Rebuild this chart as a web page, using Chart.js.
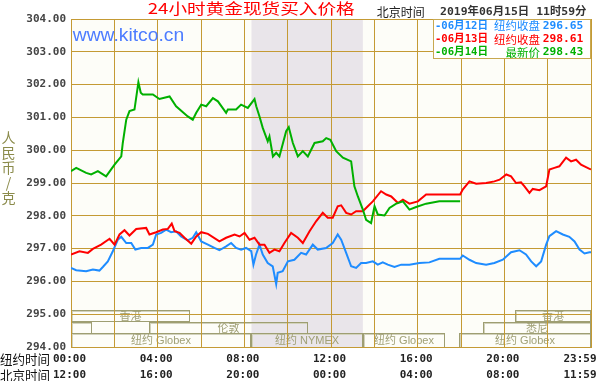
<!DOCTYPE html>
<html><head><meta charset="utf-8">
<script src="https://cdn.jsdelivr.net/npm/chart.js@4.4.1/dist/chart.umd.min.js"></script>
<style>html,body{margin:0;padding:0;background:#fff;}canvas{display:block;}</style>
</head><body>
<canvas id="c" width="600" height="381"></canvas>
<script>
// ---------- data ----------
const chartTitle = '24小时黄金现货买入价格';
const headerLabel = '北京时间';
const headerDate = '2019年06月15日 11时59分';
const watermark = 'www.kitco.cn';
const yAxisTitle = ['人','民','币','/','克'];
const yMin = 294, yMax = 304;

const legendDates  = ['-06月12日', '-06月13日', '-06月14日'];
const legendLabels = ['纽约收盘', '纽约收盘', '最新价'];
const legendValues = ['296.65', '298.61', '298.43'];

const xLabelHours = [0, 4, 8, 12, 16, 20, 24];
const nyTimeLabels = ['00:00','04:00','08:00','12:00','16:00','20:00','23:59'];
const bjTimeLabels = ['12:00','16:00','20:00','00:00','04:00','08:00','11:59'];
const rowTitles = ['纽约时间', '北京时间'];

const nymexWindow = [8.33, 13.47];

const marketLabels = ['香港','香港','','伦敦','悉尼','纽约 Globex','纽约 NYMEX','纽约 Globex','纽约 Globex'];
const marketStart  = [0, 20.47, 0, 3.62, 19.0, 0, 8.33, 13.47, 17.93];
const marketEnd    = [5.47, 24, 0.95, 10.93, 24, 8.33, 13.47, 17.25, 24];
const marketRow    = [0, 0, 1, 1, 1, 2, 2, 2, 2];

// 06月12日 (blue)
const blueHours = [0.00,0.24,0.70,1.01,1.31,1.47,1.70,1.93,2.16,2.32,2.55,2.78,2.97,3.24,3.55,3.78,3.93,4.16,4.39,4.62,4.85,5.08,5.39,5.62,5.78,6.01,6.32,6.62,6.85,7.16,7.39,7.62,7.85,8.08,8.32,8.42,8.54,8.70,8.85,9.08,9.31,9.47,9.54,9.77,10.01,10.31,10.62,10.85,11.16,11.39,11.77,12.08,12.31,12.47,12.70,12.93,13.16,13.39,13.62,13.93,14.16,14.39,14.62,14.93,15.24,15.62,16.08,16.54,17.00,17.96,18.08,18.39,18.70,19.16,19.54,19.93,20.31,20.70,21.00,21.24,21.47,21.70,21.93,22.08,22.39,22.70,23.00,23.24,23.47,23.70,23.93,24.00];
const blueValues = [296.41,296.34,296.31,296.36,296.33,296.44,296.61,296.92,297.27,297.36,297.17,297.17,296.97,297.02,297.02,297.12,297.43,297.48,297.58,297.50,297.53,297.37,297.25,297.33,297.50,297.22,297.12,297.02,296.95,297.07,297.17,297.02,296.97,297.02,296.92,296.51,296.82,297.12,296.82,296.56,296.46,295.92,296.26,296.31,296.61,296.66,296.87,296.82,297.12,296.97,297.02,297.17,297.43,297.27,296.87,296.46,296.41,296.56,296.56,296.61,296.51,296.58,296.51,296.44,296.51,296.51,296.56,296.58,296.69,296.69,296.79,296.66,296.56,296.51,296.56,296.66,296.89,296.95,296.82,296.61,296.46,296.61,297.12,297.38,297.53,297.43,297.36,297.22,296.97,296.85,296.89,296.89];

// 06月13日 (red)
const redHours = [0.00,0.39,0.78,1.01,1.39,1.78,2.01,2.24,2.47,2.70,3.01,3.47,3.62,3.93,4.24,4.47,4.65,4.78,5.01,5.24,5.55,5.78,6.01,6.32,6.85,7.16,7.55,7.78,8.01,8.24,8.47,8.70,8.93,9.16,9.39,9.62,9.85,10.16,10.47,10.70,11.01,11.32,11.62,11.85,12.08,12.31,12.47,12.70,12.93,13.16,13.47,13.70,13.93,14.31,14.55,14.78,15.09,15.32,15.62,16.01,16.39,17.96,18.08,18.39,18.70,19.16,19.54,19.78,20.09,20.31,20.54,20.77,20.93,21.16,21.31,21.62,21.93,22.08,22.31,22.54,22.85,23.08,23.31,23.54,23.93,24.00];
const redValues = [296.82,296.92,296.87,296.99,297.12,297.30,297.12,297.43,297.56,297.40,297.60,297.63,297.43,297.50,297.58,297.60,297.76,297.53,297.48,297.33,297.15,297.37,297.50,297.45,297.22,297.33,297.43,297.37,297.48,297.27,297.33,297.12,297.12,296.87,296.97,296.92,297.17,297.48,297.33,297.17,297.53,297.84,298.09,297.94,297.94,298.29,298.32,298.09,298.04,298.14,298.14,298.29,298.44,298.75,298.65,298.59,298.39,298.49,298.37,298.44,298.65,298.65,298.80,299.05,298.98,299.00,299.05,299.10,299.26,299.20,299.00,299.02,298.90,298.70,298.82,298.78,298.90,299.41,299.46,299.51,299.77,299.66,299.71,299.56,299.43,299.42];

// 06月14日 (green)
const greenHours = [0.00,0.24,0.70,0.93,1.24,1.62,2.01,2.32,2.39,2.55,2.70,2.93,3.11,3.22,3.31,3.78,4.08,4.55,4.85,5.39,5.62,5.78,6.01,6.24,6.55,6.78,7.16,7.24,7.62,7.85,8.16,8.47,8.55,8.70,8.85,9.08,9.16,9.32,9.47,9.62,9.93,10.05,10.24,10.47,10.70,10.93,11.24,11.62,11.78,11.97,12.24,12.55,12.93,13.08,13.24,13.47,13.62,13.85,13.93,14.01,14.16,14.47,14.70,15.01,15.32,15.62,15.93,16.39,17.00,17.96];
const greenValues = [299.36,299.46,299.31,299.26,299.36,299.20,299.56,299.81,300.22,300.93,301.19,301.24,302.07,301.75,301.70,301.70,301.56,301.64,301.34,301.03,300.93,301.14,301.39,301.34,301.59,301.49,301.14,301.24,301.24,301.39,301.29,301.56,301.34,301.03,300.68,300.27,300.42,299.81,299.92,299.81,300.58,300.70,300.22,299.81,299.97,299.81,300.22,300.27,300.37,300.32,299.97,299.77,299.66,298.90,298.59,298.19,297.88,297.78,298.04,298.29,298.04,298.01,298.24,298.37,298.44,298.19,298.27,298.37,298.44,298.44];

// ---------- styles ----------
const GRID = '#c49a34';
const BLUE = '#1e8cff', RED = '#ff0000', GREEN = '#00b000';
const legendColors = [BLUE, RED, GREEN];
const MONO = "'DejaVu Sans Mono','Noto Sans CJK SC'";
const CJK = "'Noto Sans CJK SC'";

function pts(h, v) { return h.map((x, i) => ({x: x, y: v[i]})); }

function fitText(ctx, text, x, y, font, color, align, width) {
  ctx.save();
  ctx.font = font; ctx.fillStyle = color; ctx.textBaseline = 'middle';
  const w = ctx.measureText(text).width;
  const s = width ? width / w : 1;
  ctx.translate(x, y); ctx.scale(s, 1);
  ctx.textAlign = align;
  ctx.fillText(text, 0, 0);
  ctx.restore();
}

const backgroundPlugin = {
  id: 'bg',
  beforeDraw(chart) {
    const {ctx, chartArea: a, scales: {x}} = chart;
    ctx.save();
    ctx.fillStyle = '#ffffff';
    ctx.fillRect(0, 0, chart.width, chart.height);
    ctx.fillStyle = '#fdfdf8';
    ctx.fillRect(a.left, a.top, a.right - a.left, a.bottom - a.top);
    const x0 = x.getPixelForValue(nymexWindow[0]);
    const x1 = x.getPixelForValue(nymexWindow[1]);
    ctx.fillStyle = '#e9e5ea';
    ctx.fillRect(x0, a.top, x1 - x0, a.bottom - a.top);
    // market session boxes
    const rowTop = [a.bottom - 37, a.bottom - 25, a.bottom - 14];
    const rowH = [11, 11, 14];
    for (let i = 0; i < marketLabels.length; i++) {
      const r = marketRow[i];
      const l = Math.round(x.getPixelForValue(marketStart[i])) + 0.5;
      const rr = Math.round(x.getPixelForValue(marketEnd[i])) - 0.5;
      const t = rowTop[r] + 0.5, h = rowH[r];
      ctx.lineWidth = 1;
      ctx.strokeStyle = '#d2d2bc';
      ctx.strokeRect(l + 1, t + 1, rr - l - 1, h - 1);
      ctx.strokeStyle = '#9e9e72';
      ctx.strokeRect(l, t, rr - l, h);
      if (marketLabels[i]) {
        ctx.font = "11px 'Liberation Sans'," + CJK;
        ctx.fillStyle = '#a0a076';
        ctx.textAlign = 'center'; ctx.textBaseline = 'middle';
        ctx.fillText(marketLabels[i], (l + rr) / 2, t + h / 2 + 0.5);
      }
    }
    ctx.restore();
  },
  afterDraw(chart) {
    const {ctx, chartArea: a, scales: {x}} = chart;
    // title and header
    fitText(ctx, chartTitle, 147.7, 8.5, "15px " + CJK, '#ff0000', 'left', 207);
    fitText(ctx, headerLabel, 376.7, 12, "12px " + CJK, '#222', 'left', 48);
    fitText(ctx, headerDate, 440, 12.5, "bold 11px " + MONO, '#333', 'left', 146.5);
    fitText(ctx, watermark, 72.7, 35.7, "18px 'Liberation Sans'", '#4d7cff', 'left', 111.5);
    // legend box
    ctx.save();
    ctx.fillStyle = '#ffffff';
    ctx.fillRect(433.5, 19.5, 157, 39);
    ctx.strokeStyle = '#c8a850'; ctx.lineWidth = 1;
    ctx.strokeRect(433.5, 19.5, 157, 39);
    ctx.restore();
    const rowsY = [25.8, 39.2, 52.5];
    for (let i = 0; i < legendDates.length; i++) {
      fitText(ctx, legendDates[i], 435, rowsY[i], "bold 11px " + MONO, legendColors[i], 'left', 53);
      fitText(ctx, legendLabels[i], 540, rowsY[i], "11.5px " + CJK, legendColors[i], 'right', null);
      fitText(ctx, legendValues[i], 542.7, rowsY[i], "bold 11px " + MONO, legendColors[i], 'left', 40.6);
    }
    // y-axis title
    ctx.save();
    ctx.font = "14px " + CJK; ctx.fillStyle = '#8b8b4b';
    ctx.textAlign = 'center'; ctx.textBaseline = 'middle';
    yAxisTitle.forEach((ch, i) => ctx.fillText(ch, 8.5, 137.5 + i * 15.1));
    ctx.restore();
    // bottom time labels
    fitText(ctx, rowTitles[0], 0, 359.3, "13px " + CJK, '#111', 'left', 50);
    fitText(ctx, rowTitles[1], 0, 375, "13px " + CJK, '#111', 'left', 50);
    for (let i = 0; i < xLabelHours.length; i++) {
      let cx = x.getPixelForValue(xLabelHours[i]) - 1.5;
      const half = 16.5;
      if (cx + half > 596.5) cx = 596.5 - half;
      fitText(ctx, nyTimeLabels[i], cx, 359.3, "bold 11px " + MONO, '#222', 'center', 33);
      fitText(ctx, bjTimeLabels[i], cx, 375, "bold 11px " + MONO, '#222', 'center', 33);
    }
  }
};

new Chart(document.getElementById('c'), {
  type: 'line',
  data: {
    datasets: [
      {label: '06月14日', data: pts(greenHours, greenValues), borderColor: GREEN, borderWidth: 2, pointRadius: 0, tension: 0},
      {label: '06月13日', data: pts(redHours, redValues), borderColor: RED, borderWidth: 2, pointRadius: 0, tension: 0},
      {label: '06月12日', data: pts(blueHours, blueValues), borderColor: BLUE, borderWidth: 2, pointRadius: 0, tension: 0}
    ]
  },
  options: {
    responsive: false, animation: false, devicePixelRatio: 1,
    layout: {padding: {left: 0, right: 9, top: 19, bottom: 34}},
    plugins: {legend: {display: false}, tooltip: {enabled: false}, title: {display: false}},
    scales: {
      x: {
        type: 'linear', min: 0, max: 24,
        ticks: {display: false, stepSize: 2},
        grid: {color: GRID, drawTicks: false, lineWidth: 1},
        border: {color: GRID},
        afterFit(s) { s.height = 0; }
      },
      y: {
        min: yMin, max: yMax,
        ticks: {stepSize: 1, callback: v => Number(v).toFixed(2), font: {family: "'DejaVu Sans Mono'", weight: 'bold', size: 11}, color: '#444', padding: 5},
        grid: {color: GRID, drawTicks: false, lineWidth: 1},
        border: {color: GRID},
        afterFit(s) { s.width = 71; }
      }
    }
  },
  plugins: [backgroundPlugin]
});
</script>
</body></html>
